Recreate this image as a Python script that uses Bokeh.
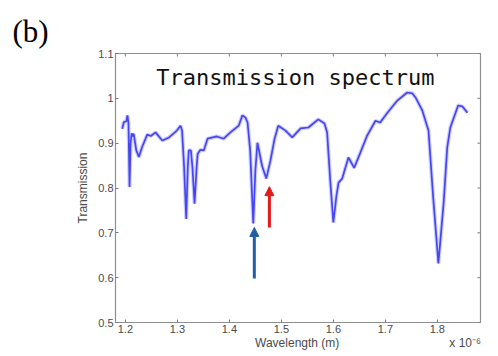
from bokeh.plotting import figure
from bokeh.models import (Range1d, FixedTicker, Label, Arrow, NormalHead,
                          ColumnDataSource, Title)
from bokeh.embed import file_html
from bokeh.resources import INLINE

# ---- data (wavelength in units of 1e-6 m) ----
wavelength = [1.194, 1.197, 1.202, 1.204, 1.206, 1.208, 1.210, 1.212, 1.214, 1.216,
              1.221, 1.226, 1.232, 1.242, 1.249, 1.258, 1.271, 1.283, 1.299, 1.306,
              1.309, 1.313, 1.317, 1.320, 1.322, 1.326, 1.329, 1.333, 1.337, 1.339,
              1.344, 1.351, 1.358, 1.376, 1.389, 1.402, 1.418, 1.425, 1.431, 1.435,
              1.440, 1.446, 1.450, 1.454, 1.463, 1.471, 1.479, 1.487, 1.494, 1.508,
              1.521, 1.537, 1.552, 1.571, 1.583, 1.588, 1.594, 1.600, 1.606, 1.610,
              1.617, 1.629, 1.640, 1.652, 1.665, 1.681, 1.690, 1.704, 1.723, 1.742,
              1.752, 1.758, 1.771, 1.783, 1.792, 1.802, 1.812, 1.819, 1.825, 1.840,
              1.848, 1.858]
transmission = [0.932, 0.947, 0.949, 0.962, 0.944, 0.802, 0.899, 0.922, 0.915, 0.921,
                0.884, 0.869, 0.891, 0.919, 0.916, 0.924, 0.906, 0.912, 0.928, 0.939,
                0.928, 0.846, 0.731, 0.846, 0.884, 0.884, 0.846, 0.765, 0.846, 0.876,
                0.885, 0.884, 0.910, 0.915, 0.910, 0.924, 0.939, 0.962, 0.957, 0.946,
                0.884, 0.721, 0.839, 0.901, 0.849, 0.821, 0.861, 0.910, 0.939, 0.928,
                0.913, 0.933, 0.935, 0.953, 0.944, 0.924, 0.817, 0.723, 0.783, 0.812,
                0.821, 0.868, 0.845, 0.879, 0.917, 0.950, 0.946, 0.968, 0.995, 1.013,
                1.011, 1.002, 0.973, 0.928, 0.779, 0.632, 0.765, 0.890, 0.935, 0.984,
                0.982, 0.968]

x_ticks = [1.2, 1.3, 1.4, 1.5, 1.6, 1.7, 1.8]
x_tick_labels = ["1.2", "1.3", "1.4", "1.5", "1.6", "1.7", "1.8"]
y_ticks = [0.5, 0.6, 0.7, 0.8, 0.9, 1, 1.1]
y_tick_labels = ["0.5", "0.6", "0.7", "0.8", "0.9", "1", "1.1"]

# marker arrows: (x, y_start, y_end)
blue_arrow = (1.448, 0.598, 0.712)
red_arrow = (1.477, 0.712, 0.803)

title_text = "Transmission spectrum"
panel_text = "(b)"
x_label = "Wavelength (m)"
x_scale_note = "x 10\u207b\u2076"
y_label = "Transmission"

X0, X1 = 1.181, 1.883
Y0, Y1 = 0.5, 1.1

src = ColumnDataSource(dict(x=wavelength, y=transmission))

p = figure(width=490, height=354, output_backend="svg", toolbar_location=None,
           x_range=Range1d(X0, X1), y_range=Range1d(Y0, Y1),
           min_border_left=115, min_border_top=53, min_border_right=10,
           min_border_bottom=32, background_fill_color="white",
           border_fill_color="white")
p.grid.visible = False
p.outline_line_color = "#8f8f8f"
p.outline_line_width = 1.2

# blurred-looking line: wide light under-stroke + core
p.line("x", "y", source=src, line_color="#b8b8ff", line_width=4, line_alpha=0.7)
p.line("x", "y", source=src, line_color="#4646ee", line_width=1.7)

def style(ax):
    ax.axis_line_color = None
    ax.major_tick_in = 3
    ax.major_tick_out = 0
    ax.minor_tick_line_color = None
    ax.major_tick_line_color = "#7a7a7a"
    ax.major_label_text_font = "Liberation Sans"
    ax.major_label_text_font_size = "11px"
    ax.major_label_text_color = "#4a4a4a"
    ax.major_label_standoff = 2
    ax.axis_label_text_font = "Liberation Sans"
    ax.axis_label_text_font_style = "normal"
    ax.axis_label_text_font_size = "12px"
    ax.axis_label_text_color = "#4a4a4a"

NB = "\u00a0"
xa = p.xaxis[0]
xa.ticker = FixedTicker(ticks=x_ticks)
xa.major_label_overrides = dict(zip(x_ticks, x_tick_labels))
# the "x 10^-6" multiplier sits on the same line as the axis label, at the right end
xa.axis_label = NB * 42 + x_label + NB * 33 + x_scale_note
style(xa)
xa.axis_label_standoff = 0

ya = p.yaxis[0]
ya.ticker = FixedTicker(ticks=y_ticks)
ya.major_label_overrides = dict(zip(y_ticks, y_tick_labels))
ya.axis_label = y_label
style(ya)
ya.axis_label_standoff = 5

# inward ticks on the top and right edges of the box (matlab style)
tx = 3.0 / 520.0
ty = 3.0 / 448.3
p.segment(x0=x_ticks, y0=[Y1] * len(x_ticks), x1=x_ticks, y1=[Y1 - ty] * len(x_ticks),
          line_color="#7a7a7a", line_width=1)
p.segment(x0=[X1] * len(y_ticks), y0=y_ticks, x1=[X1 - tx] * len(y_ticks), y1=y_ticks,
          line_color="#7a7a7a", line_width=1)

# arrows
for (ax_x, y0, y1), col in ((blue_arrow, "#1f5fa6"), (red_arrow, "#e01b1b")):
    p.add_layout(Arrow(x_start=ax_x, y_start=y0, x_end=ax_x, y_end=y1,
                       line_color=col, line_width=3,
                       end=NormalHead(size=9, fill_color=col, line_color=col)))

p.add_layout(Label(x=1.527, y=1.047, text=title_text, text_align="center",
                   text_baseline="middle", text_font="DejaVu Sans Mono",
                   text_font_size="22px", text_color="#111111"))

# panel letter "(b)" in the top-left margin
p.add_layout(Title(text=panel_text, align="left", offset=-103, standoff=10,
                   vertical_align="bottom", text_font="Liberation Serif",
                   text_font_size="31px", text_font_style="normal",
                   text_color="#000000"), "above")

open("out.html", "w").write(file_html(p, INLINE))
